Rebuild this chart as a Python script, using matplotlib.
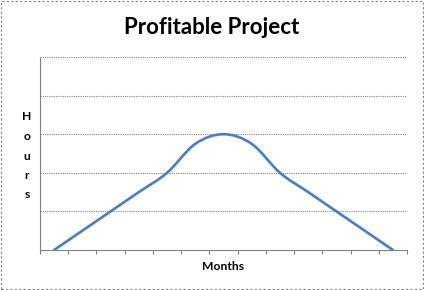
import matplotlib.pyplot as plt
from matplotlib.path import Path
from matplotlib.patches import PathPatch, Rectangle
import numpy as np

# chart data
title = "Profitable Project"
x_label = "Months"
y_label = "Hours"
months = list(range(13))
hours = [0, 0.5, 1, 1.5, 2, 2.75, 3, 2.75, 2, 1.5, 1, 0.5, 0]

line_color = '#4A7EBF'
grid_color = '#808080'

fig = plt.figure(figsize=(4.24, 2.9), dpi=100)
ax = fig.add_axes([40 / 424, 1 - 250 / 290, 367 / 424, 193 / 290])

# smoothed line (Excel style) built as bezier segments through the data points
pts = np.column_stack([months, hours]).astype(float)
ext = np.vstack([pts[0], pts, pts[-1]])
verts = [tuple(pts[0])]
codes = [Path.MOVETO]
for i in range(1, len(ext) - 2):
    p0, p1, p2, p3 = ext[i - 1], ext[i], ext[i + 1], ext[i + 2]
    c1 = p1 + (p2 - p0) / 6
    c2 = p2 - (p3 - p1) / 6
    verts += [tuple(c1), tuple(c2), tuple(p2)]
    codes += [Path.CURVE4] * 3
ax.add_patch(PathPatch(Path(verts, codes), facecolor='none',
                       edgecolor=line_color, lw=1.9, capstyle='round',
                       transform=ax.transData, zorder=3))

ax.set_xlim(-0.5, 12.5)
ax.set_ylim(0, 5)

# gridlines
for v in range(1, 6):
    ax.axhline(v, color=grid_color, lw=0.8, ls=(0, (1, 1)), zorder=1)

for side in ['top', 'right']:
    ax.spines[side].set_visible(False)
for side in ['left', 'bottom']:
    ax.spines[side].set_color(grid_color)
    ax.spines[side].set_linewidth(0.8)
    ax.spines[side].set_linestyle((0, (1, 1)))

ax.set_xticks(np.arange(-0.5, 13, 1))
ax.set_xticklabels([])
ax.set_yticks([])
ax.tick_params(axis='x', direction='out', length=3, color=grid_color, width=0.8)

fig.text(212 / 424, 1 - 27 / 290, title, ha='center', va='center',
         fontsize=16, fontweight='bold', family='Lato')
fig.text(223 / 424, 1 - 266 / 290, x_label, ha='center', va='center',
         fontsize=8.7, fontweight='bold', family='Lato')
for i, ch in enumerate(y_label):
    fig.text(27 / 424, 1 - (117 + i * 19.5) / 290, ch, ha='center', va='center',
             fontsize=8.7, fontweight='bold', family='Lato')

# outer chart border
fig.patches.append(Rectangle((1 / 424, 1 / 290), 422 / 424, 288 / 290,
                             transform=fig.transFigure, fill=False,
                             edgecolor='#7F7F7F', lw=0.8, ls=(0, (2, 2))))

plt.savefig('out.png', dpi=100)
